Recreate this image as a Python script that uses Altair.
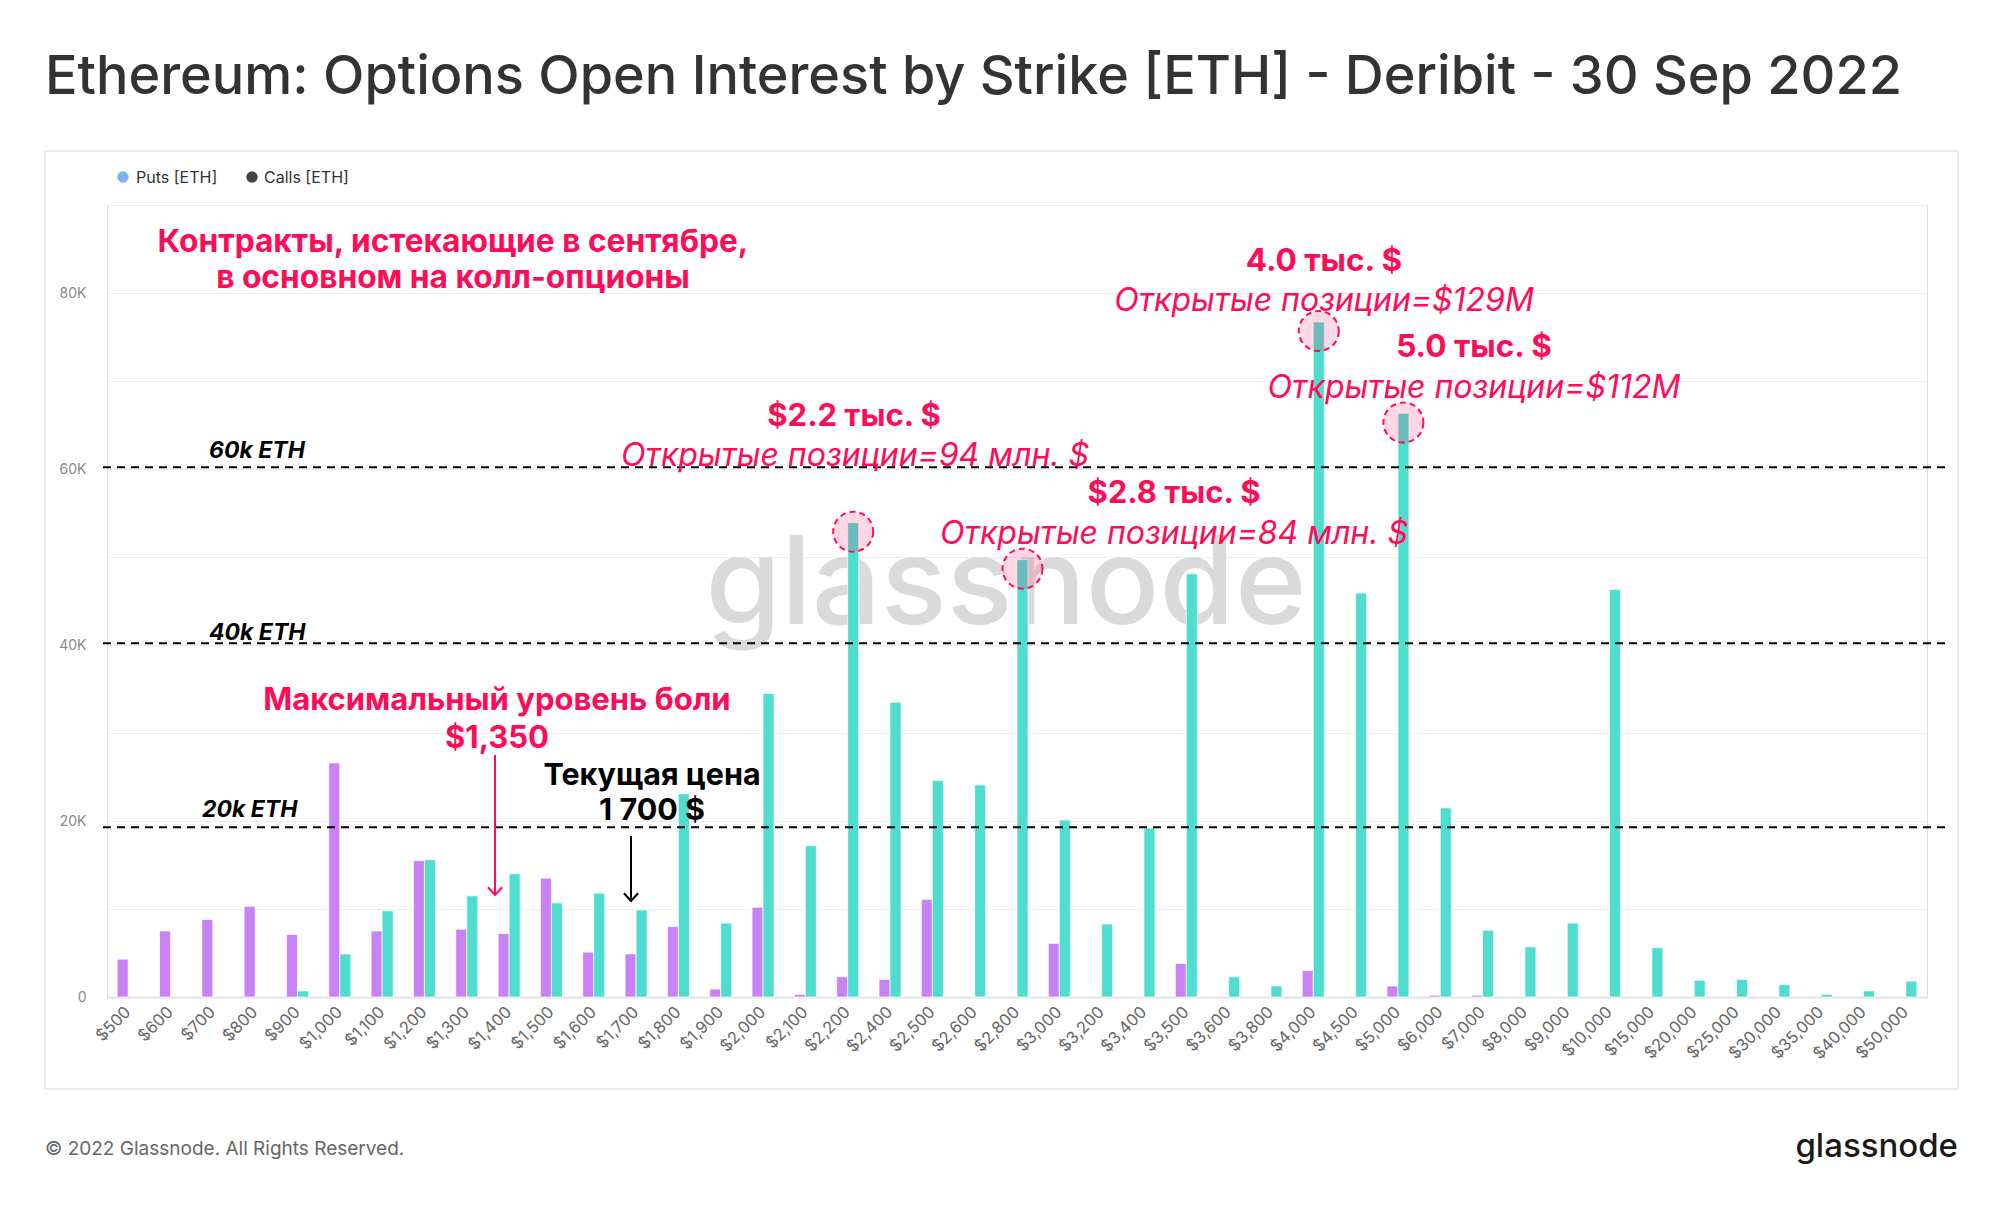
import altair as alt
import pandas as pd

strikes = ["$500", "$600", "$700", "$800", "$900", "$1,000", "$1,100", "$1,200", "$1,300",
           "$1,400", "$1,500", "$1,600", "$1,700", "$1,800", "$1,900", "$2,000", "$2,100",
           "$2,200", "$2,400", "$2,500", "$2,600", "$2,800", "$3,000", "$3,200", "$3,400",
           "$3,500", "$3,600", "$3,800", "$4,000", "$4,500", "$5,000", "$6,000", "$7,000",
           "$8,000", "$9,000", "$10,000", "$15,000", "$20,000", "$25,000", "$30,000",
           "$35,000", "$40,000", "$50,000"]
puts = [4300, 7500, 8800, 10300, 7100, 26600, 7500, 15500, 7700, 7200, 13500, 5100, 4900,
        8000, 900, 10200, 300, 2300, 2000, 11100, 0, 0, 6100, 0, 0, 3800, 0, 0, 3000, 0,
        1250, 200, 200, 0, 0, 0, 0, 0, 0, 0, 0, 0, 0]
calls = [0, 0, 0, 0, 700, 4900, 9800, 15600, 11500, 14000, 10700, 11800, 9900, 23100, 8400,
         34500, 17200, 53900, 33500, 24600, 24100, 49700, 20100, 8300, 19200, 48100, 2300,
         1250, 76700, 45900, 66300, 21500, 7600, 5700, 8400, 46300, 5600, 1900, 2000, 1400,
         300, 700, 1800]
series_names = ["Puts", "Calls"]
highlight_strikes = ["$2,200", "$2,800", "$4,000", "$5,000"]
ref_levels = [60200, 40200, 19300]

PINK = "#ff0b57"
PURPLE = "#c882f5"
TEAL = "#4eddcf"
FONT = "Inter"

df = pd.DataFrame({
    "strike": strikes * 2,
    "series": ["Puts"] * len(strikes) + ["Calls"] * len(strikes),
    "value": puts + calls,
})
df = df[df["value"] > 0]

x_enc = alt.X("strike:N", sort=strikes, title=None,
              scale=alt.Scale(paddingInner=0.48, paddingOuter=0.24),
              axis=alt.Axis(labelAngle=-45, labelAlign="right", labelBaseline="middle",
                            labelPadding=12, labelFontSize=16.5, labelColor="#666666",
                            labelFont=FONT, ticks=False, domainColor="#e3e3e3",
                            domainWidth=2, grid=False, labelOverlap=False))
xoff_enc = alt.XOffset("series:N", scale=alt.Scale(domain=series_names, paddingInner=0))
y_enc = alt.Y("value:Q", title=None,
              scale=alt.Scale(domain=[0, 90000], nice=False),
              axis=alt.Axis(values=list(range(0, 90001, 10000)),
                            labelExpr="datum.value % 20000 == 0 ? (datum.value == 0 ? '0' : (datum.value/1000) + 'K') : ''",
                            labelFontSize=14, labelColor="#8a8a8a", labelFont=FONT,
                            labelPadding=21, ticks=False, domain=False,
                            gridColor="#eeeeee", gridWidth=1))

bars = alt.Chart(df).mark_bar(stroke="white", strokeWidth=1, strokeOpacity=0.7).encode(
    x=x_enc, xOffset=xoff_enc, y=y_enc,
    color=alt.Color("series:N", scale=alt.Scale(domain=series_names, range=[PURPLE, TEAL]),
                    legend=None),
)

hl = df[(df["series"] == "Calls") & (df["strike"].isin(highlight_strikes))]
circles = alt.Chart(hl).mark_point(
    shape="circle", size=1600, filled=True, fill=PINK, fillOpacity=0.16, stroke=PINK,
    strokeWidth=2, strokeDash=[6, 4], strokeOpacity=1, opacity=1, yOffset=9
).encode(x=alt.X("strike:N", sort=strikes), xOffset=alt.XOffset("series:N"), y="value:Q")

refs = alt.Chart(pd.DataFrame({"v": ref_levels})).mark_rule(
    color="black", strokeDash=[8, 6], strokeWidth=2
).encode(y="v:Q", x=alt.value(-4), x2=alt.value(1841))


def label(txt, x, y, size, color, weight="normal", style="normal", align="center", font=FONT):
    return alt.Chart(pd.DataFrame({"t": [txt]})).mark_text(
        align=align, baseline="alphabetic", font=font, fontSize=size, fontWeight=weight,
        fontStyle=style, color=color
    ).encode(x=alt.value(x), y=alt.value(y), text="t:N")


def vline(x, y1, y2, color):
    return alt.Chart(pd.DataFrame({"a": [0]})).mark_rule(color=color, strokeWidth=2).encode(
        x=alt.value(x), y=alt.value(y1), y2=alt.value(y2))


def head(x, y, color):
    return alt.Chart(pd.DataFrame({"a": [0]})).mark_point(
        shape="M-1,-1.1L0,0L1,-1.1", size=200, filled=False, stroke=color, strokeWidth=2,
        opacity=1
    ).encode(x=alt.value(x), y=alt.value(y))


def dot(x, y, color):
    return alt.Chart(pd.DataFrame({"a": [0]})).mark_point(
        shape="circle", size=130, filled=True, color=color, opacity=1
    ).encode(x=alt.value(x), y=alt.value(y))


watermark = label("glassnode", 899, 419, 122, "#dadada", weight=500)

frame = alt.Chart(pd.DataFrame({"a": [0]})).mark_rect(
    fillOpacity=0, stroke="#e6e6e6", strokeWidth=1.5
).encode(x=alt.value(-62), x2=alt.value(1851), y=alt.value(-54), y2=alt.value(884))

ITAL = 32
texts = [
    label("Ethereum: Options Open Interest by Strike [ETH] - Deribit - 30 Sep 2022",
          -62, -111, 54, "#333333", weight=500, align="left"),
    label("© 2022 Glassnode. All Rights Reserved.", -62, 950, 19, "#666666", align="left"),
    label("glassnode", 1851, 952, 33, "#1a1a1a", weight=500, align="right"),
    label("Puts [ETH]", 29, -22, 16, "#333333", align="left"),
    label("Calls [ETH]", 157, -22, 16, "#333333", align="left"),
    label("Контракты, истекающие в сентябре,", 346, 47, 31.7, PINK, weight="bold"),
    label("в основном на колл-опционы", 346, 83, 31.7, PINK, weight="bold"),
    label("Максимальный уровень боли", 390, 505, 31, PINK, weight="bold"),
    label("$1,350", 390, 543, 31, PINK, weight="bold"),
    label("Текущая цена", 545, 580, 30.5, "black", weight="bold"),
    label("1 700 $", 545, 615, 30.5, "black", weight="bold"),
    label("$2.2 тыс. $", 747, 221, 31, PINK, weight="bold"),
    label("Открытые позиции=94 млн. $", 748, 261, ITAL, PINK, style="italic"),
    label("$2.8 тыс. $", 1067, 298, 31, PINK, weight="bold"),
    label("Открытые позиции=84 млн. $", 1067, 339, ITAL, PINK, style="italic"),
    label("4.0 тыс. $", 1217, 66, 31.5, PINK, weight="bold"),
    label("Открытые позиции=$129M", 1217, 106, ITAL, PINK, style="italic"),
    label("5.0 тыс. $", 1367, 152, 31.5, PINK, weight="bold"),
    label("Открытые позиции=$112M", 1367, 193, ITAL, PINK, style="italic"),
    label("60k ETH", 102, 253, 23, "black", weight="bold", style="italic", align="left"),
    label("40k ETH", 102, 435, 23, "black", weight="bold", style="italic", align="left"),
    label("20k ETH", 95, 612, 23, "black", weight="bold", style="italic", align="left"),
]

arrows = [
    vline(388, 550, 690, PINK), head(388, 690, PINK),
    vline(524, 631, 696, "black"), head(524, 696, "black"),
    dot(16, -28, "#7cb5ec"), dot(145, -28, "#434348"),
]

chart = alt.layer(frame, watermark, bars, refs, circles, *arrows, *texts).properties(
    width=1820, height=792,
    padding={"left": 99, "top": 197, "right": 50, "bottom": 190},
    autosize=alt.AutoSizeParams(type="none"),
).configure_view(stroke=None).configure(background="white")

chart.save("out.html", embed_options={"renderer": "svg", "actions": False})
